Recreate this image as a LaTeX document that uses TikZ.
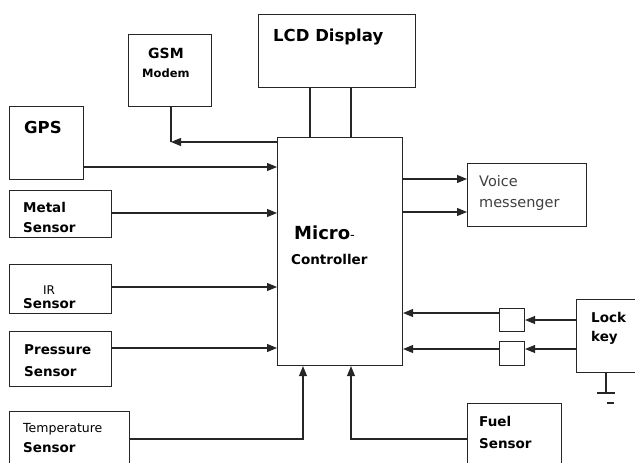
\documentclass[tikz,border=0pt]{standalone}
\usepackage{fontspec}
\setmainfont{DejaVu Sans}
\usetikzlibrary{arrows.meta}
\tikzset{
  box/.style={draw=black!85, line width=1.1pt, rectangle, inner sep=0pt, anchor=north west},
  conn/.style={draw=black!85, line width=1.1pt},
  arr/.style={conn, -{Triangle[length=10pt,width=8pt]}},
  lbl/.style={anchor=base west, inner sep=0pt, font=\bfseries\fontsize{13.5}{16}\selectfont},
  lblbig/.style={anchor=base west, inner sep=0pt, font=\bfseries\fontsize{16.5}{19}\selectfont},
  lblreg/.style={anchor=base west, inner sep=0pt, font=\fontsize{12}{14}\selectfont},
}
\begin{document}
\begin{tikzpicture}[x=1pt,y=-1pt]
\useasboundingbox (0,0) rectangle (635,463);
\clip (0,0) rectangle (635,463);
% boxes
\node[box, minimum width=157pt, minimum height=73pt] (lcd) at (258,14) {};
\node[box, minimum width=83pt, minimum height=72pt] (gsm) at (128,34) {};
\node[box, minimum width=74pt, minimum height=73pt] (gps) at (9,106) {};
\node[box, minimum width=102pt, minimum height=47pt] (metal) at (9,190) {};
\node[box, minimum width=102pt, minimum height=49pt] (ir) at (9,264) {};
\node[box, minimum width=102pt, minimum height=55pt] (press) at (9,331) {};
\node[box, minimum width=120pt, minimum height=80pt] (temp) at (9,411) {};
\node[box, minimum width=125pt, minimum height=228pt] (mc) at (277,137) {};
\node[box, minimum width=119pt, minimum height=63pt] (voice) at (467,163) {};
\node[box, minimum width=80pt, minimum height=73pt] (lock) at (576,299) {};
\node[box, minimum width=25pt, minimum height=23pt] (sb1) at (499,308) {};
\node[box, minimum width=25pt, minimum height=24pt] (sb2) at (499,341) {};
\node[box, minimum width=94pt, minimum height=80pt] (fuel) at (467,403) {};
% labels
\node[lblbig] (tlcd) at (273,41) {LCD Display};
\node[anchor=base west, inner sep=0pt, font=\bfseries\fontsize{14}{16}\selectfont] (tgsm) at (148,58) {GSM};
\node[anchor=base west, inner sep=0pt, font=\bfseries\fontsize{11.5}{13}\selectfont] (tmodem) at (142,77) {Modem};
\node[lblbig] (tgps) at (24,133) {GPS};
\node[lbl] (tmetal) at (23,212) {Metal};
\node[lbl] (tmetal2) at (23,232) {Sensor};
\node[lblreg] (tir) at (43,294) {IR};
\node[lbl] (tir2) at (23,308) {Sensor};
\node[lbl] (tpress) at (24,354) {Pressure};
\node[lbl] (tpress2) at (24,376) {Sensor};
\node[anchor=base west, inner sep=0pt, font=\fontsize{12.5}{15}\selectfont] (ttemp) at (23,432) {Temperature};
\node[lbl] (ttemp2) at (23,452) {Sensor};
\node[anchor=base west, inner sep=0pt] (tmicro) at (294,239) {\bfseries\fontsize{18}{21}\selectfont Micro\mdseries\fontsize{13}{15}\selectfont-};
\node[lbl] (tctrl) at (291,264) {Controller};
\node[anchor=base west, inner sep=0pt, text=black!75, font=\fontsize{14.5}{17}\selectfont] (tvoice) at (479,186) {Voice};
\node[anchor=base west, inner sep=0pt, text=black!75, font=\fontsize{14.5}{17}\selectfont] (tvoice2) at (479,207) {messenger};
\node[lbl] (tlock) at (591,322) {Lock};
\node[lbl] (tlock2) at (591,341) {key};
\node[lbl] (tfuel) at (479,426) {Fuel};
\node[lbl] (tfuel2) at (479,448) {Sensor};
% helper coordinates
\coordinate (l1) at (310,0);
\coordinate (l2) at (351,0);
\coordinate (gsmc) at (171,142);
\coordinate (ygps) at (0,167);
\coordinate (ymetal) at (0,213);
\coordinate (yir) at (0,287);
\coordinate (ypress) at (0,348);
\coordinate (tempc) at (303,439);
\coordinate (fuelc) at (351,439);
\coordinate (yv1) at (0,179);
\coordinate (yv2) at (0,212);
\coordinate (ys1) at (0,313);
\coordinate (yk1) at (0,320);
\coordinate (ys2) at (0,349);
\coordinate (g0) at (606,393);
\coordinate (g1) at (597,393);
\coordinate (g2) at (615,393);
\coordinate (g3) at (607,403);
\coordinate (g4) at (614,403);
% connectors
\draw[conn] (lcd.south -| l1) -- (mc.north -| l1);
\draw[conn] (lcd.south -| l2) -- (mc.north -| l2);
\draw[arr] (mc.west |- gsmc) -- (gsmc);
\draw[conn] (gsm.south -| gsmc) -- (gsmc);
\draw[arr] (gps.east |- ygps) -- (mc.west |- ygps);
\draw[arr] (metal.east |- ymetal) -- (mc.west |- ymetal);
\draw[arr] (ir.east |- yir) -- (mc.west |- yir);
\draw[arr] (press.east |- ypress) -- (mc.west |- ypress);
\draw[arr] (temp.east |- tempc) -- (tempc) -- (mc.south -| tempc);
\draw[arr] (fuel.west |- fuelc) -- (fuelc) -- (mc.south -| fuelc);
\draw[arr] (mc.east |- yv1) -- (voice.west |- yv1);
\draw[arr] (mc.east |- yv2) -- (voice.west |- yv2);
\draw[arr] (lock.west |- yk1) -- (sb1.east |- yk1);
\draw[arr] (sb1.west |- ys1) -- (mc.east |- ys1);
\draw[arr] (lock.west |- ys2) -- (sb2.east |- ys2);
\draw[arr] (sb2.west |- ys2) -- (mc.east |- ys2);
\draw[conn] (lock.south -| g0) -- (g0);
\draw[conn] (g1) -- (g2);
\draw[conn] (g3) -- (g4);
\end{tikzpicture}
\end{document}
